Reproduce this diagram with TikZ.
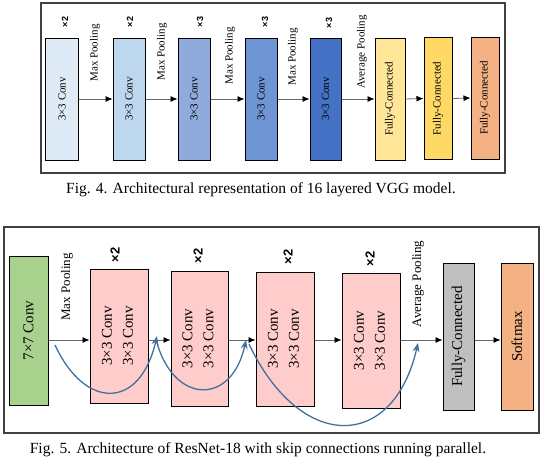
\documentclass[tikz,border=0pt]{standalone}
\usepackage{fontspec}
\setmainfont{Liberation Serif}
\setsansfont{Liberation Sans}
\usepackage{xcolor}
\usetikzlibrary{arrows.meta}

\definecolor{vggA}{HTML}{DEEBF7}
\definecolor{vggB}{HTML}{BDD7EE}
\definecolor{vggC}{HTML}{8FAADC}
\definecolor{vggD}{HTML}{6F94D3}
\definecolor{vggE}{HTML}{4472C4}
\definecolor{fcA}{HTML}{FFE699}
\definecolor{fcB}{HTML}{FFD966}
\definecolor{fcC}{HTML}{F4B183}
\definecolor{resGreen}{HTML}{A9D18E}
\definecolor{resPink}{HTML}{FFCCCC}
\definecolor{resGray}{HTML}{BFBFBF}
\definecolor{skipBlue}{HTML}{41719C}
\definecolor{frameGray}{HTML}{404040}

\newcommand{\vtext}[1]{\rotatebox{90}{#1}}
\newcommand{\vtwo}[2]{\rotatebox{90}{\begin{tabular}{@{}c@{}}#1\\[4pt]#2\end{tabular}}}

\begin{document}
\begin{tikzpicture}[x=1pt,y=-1pt,
  blk/.style={draw=black, line width=1pt, inner sep=0pt},
  vgg/.style={blk, minimum height=122pt, font=\fontsize{11}{12}\selectfont},
  res/.style={blk, font=\fontsize{15}{17}\selectfont},
  flow/.style={draw=black!60, line width=0.8pt, -{Latex[length=7pt,width=6pt,color=black]}},
  skip/.style={draw=skipBlue, line width=1.3pt, -{Stealth[length=9pt,width=7pt]}},
  reps/.style={rotate=90, inner sep=0pt, font=\sffamily\bfseries\fontsize{9}{9}\selectfont},
  bigreps/.style={rotate=90, inner sep=0pt, font=\sffamily\bfseries\fontsize{13}{13}\selectfont},
  pool/.style={rotate=90, inner sep=0pt, font=\fontsize{11}{12}\selectfont},
  bigpool/.style={rotate=90, inner sep=0pt, font=\fontsize{13}{14}\selectfont},
  caption/.style={inner sep=0pt, font=\fontsize{15.5}{17}\selectfont}]

  \useasboundingbox (0,0) rectangle (545,472);

  % VGG-16
  \draw[frameGray, line width=1.4pt] (41,3) rectangle (505,173);

  \node[vgg, fill=vggA, minimum width=33pt] (b1) at (62,99) {\vtext{3×3 Conv}};
  \node[vgg, fill=vggB, minimum width=32pt] (b2) at (129,99) {\vtext{3×3 Conv}};
  \node[vgg, fill=vggC, minimum width=32pt] (b3) at (194,99) {\vtext{3×3 Conv}};
  \node[vgg, fill=vggD, minimum width=32pt] (b4) at (261,99) {\vtext{3×3 Conv}};
  \node[vgg, fill=vggE, minimum width=31pt] (b5) at (325.5,99) {\vtext{3×3 Conv}};
  \node[vgg, fill=fcA, minimum width=30pt] (f1) at (390,99) {\vtext{Fully-Connected}};
  \node[vgg, fill=fcB, minimum width=28pt] (f2) at (438,98.5) {\vtext{Fully-Connected}};
  \node[vgg, fill=fcC, minimum width=28pt] (f3) at (485,98) {\vtext{Fully-Connected}};

  \node[reps] (n1) at (65,22) {×2};
  \node[reps] (n2) at (130,22) {×2};
  \node[reps] (n3) at (200,22) {×3};
  \node[reps] (n4) at (265,22) {×3};
  \node[reps] (n5) at (329,23) {×3};

  \node[pool] (m1) at (95,53) {Max Pooling};
  \node[pool] (m2) at (162,52) {Max Pooling};
  \node[pool] (m3) at (230,56) {Max Pooling};
  \node[pool] (m4) at (293,57) {Max Pooling};
  \node[pool] (a1) at (362,52) {Average Pooling};

  \foreach \s/\t in {b1/b2, b2/b3, b3/b4, b4/b5, b5/f1, f1/f2, f2/f3}
    \draw[flow] (\s.east) -- (\t.west);

  \node[caption] (cap4) at (261,190) {Fig. 4. Architectural representation of 16 layered VGG model.};

  % ResNet-18
  \draw[frameGray, line width=1.4pt] (4,227) rectangle (539,433);
  \coordinate (row) at (0,340);

  \node[res, fill=resGreen, minimum width=39pt, minimum height=149pt] (c7) at (28.5,330.5) {\vtext{7×7 Conv}};
  \node[res, fill=resPink, minimum width=58pt, minimum height=134pt] (p1) at (119,336) {\vtwo{3×3 Conv}{3×3 Conv}};
  \node[res, fill=resPink, minimum width=57pt, minimum height=135pt] (p2) at (199.5,338.5) {\vtwo{3×3 Conv}{3×3 Conv}};
  \node[res, fill=resPink, minimum width=58pt, minimum height=134pt] (p3) at (285,339) {\vtwo{3×3 Conv}{3×3 Conv}};
  \node[res, fill=resPink, minimum width=58pt, minimum height=135pt] (p4) at (371,340.5) {\vtwo{3×3 Conv}{3×3 Conv}};
  \node[res, fill=resGray, minimum width=31pt, minimum height=147pt] (fc) at (458.5,336.5) {\vtext{Fully-Connected}};
  \node[res, fill=fcC, minimum width=32pt, minimum height=147pt] (sm) at (517,336.5) {\vtext{Softmax}};

  \node[bigreps] (r1) at (115,255) {×2};
  \node[bigreps] (r2) at (198,256) {×2};
  \node[bigreps] (r3) at (288,257) {×2};
  \node[bigreps] (r4) at (370,259) {×2};

  \node[bigpool] (m5) at (67,287) {Max Pooling};
  \node[bigpool] (a2) at (418,284) {Average Pooling};

  \foreach \s/\t in {c7/p1, p1/p2, p2/p3, p3/p4, p4/fc, fc/sm}
    \draw[flow] (\s.east |- row) -- (\t.west |- row);

  % skip connections
  \coordinate (k0) at (55,345);
  \coordinate (k1) at (157,336);
  \coordinate (k2) at (157,343);
  \coordinate (k3) at (246,340);
  \coordinate (k4) at (249,344);
  \coordinate (k5) at (418,343);
  \draw[skip] (k0) .. controls (85,410) and (140,410) .. (k1);
  \draw[skip] (k2) .. controls (175,405) and (232,405) .. (k3);
  \draw[skip] (k4) .. controls (300,452) and (393,452) .. (k5);

  \node[caption] (cap5) at (258,450) {Fig. 5. Architecture of ResNet-18 with skip connections running parallel.};
\end{tikzpicture}
\end{document}
